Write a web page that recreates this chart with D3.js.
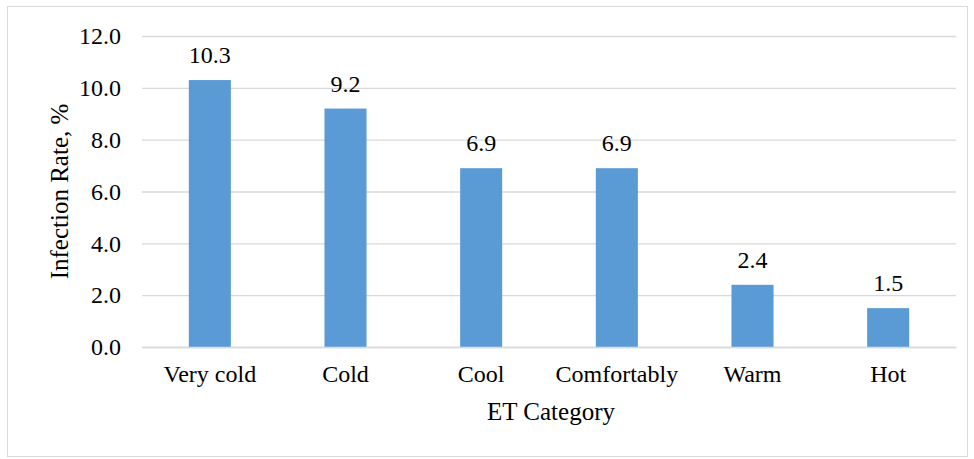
<!DOCTYPE html>
<html>
<head>
<meta charset="utf-8">
<script src="https://cdn.jsdelivr.net/npm/d3@7"></script>
<style>
  html, body { margin: 0; padding: 0; background: #fff; }
  svg { display: block; }
</style>
</head>
<body>
<svg id="chart" width="974" height="459" style="font-family: 'Times New Roman', Tinos, 'Liberation Serif', serif;"></svg>
<script>
// Infection rate by effective-temperature (ET) category
const categories = ["Very cold", "Cold", "Cool", "Comfortably", "Warm", "Hot"];
const infectionRate = [10.3, 9.2, 6.9, 6.9, 2.4, 1.5];
const yTicks = [0, 2, 4, 6, 8, 10, 12];

const SERIF = "'Times New Roman', Tinos, 'Liberation Serif', serif";
const W = 974, H = 459;
const margin = { top: 36, right: 18, bottom: 112, left: 142 };
const plotW = W - margin.left - margin.right;
const plotH = H - margin.top - margin.bottom;

const svg = d3.select("#chart");

// outer frame
svg.append("rect")
  .attr("x", 7.5).attr("y", 6.5)
  .attr("width", 960).attr("height", 450)
  .attr("fill", "none").attr("stroke", "#d9d9d9").attr("stroke-width", 1);

const g = svg.append("g").attr("transform", `translate(${margin.left},${margin.top})`);

const x = d3.scaleBand().domain(categories).range([0, plotW])
  .paddingInner(0.69).paddingOuter(0.345);
const y = d3.scaleLinear().domain([0, 12]).range([plotH, 0]);

// horizontal gridlines
g.append("g")
  .call(d3.axisLeft(y).tickValues(yTicks).tickSize(-plotW).tickFormat(""))
  .call(a => a.select(".domain").remove())
  .call(a => a.selectAll("line").attr("stroke", "#d9d9d9").attr("stroke-width", 1.3));

// y tick labels
g.append("g")
  .call(d3.axisLeft(y).tickValues(yTicks).tickSize(0).tickPadding(21).tickFormat(d3.format(".1f")))
  .attr("font-size", 24)
  .attr("font-family", null)
  .call(a => a.select(".domain").remove())
  .call(a => a.selectAll("text").attr("fill", "#000").style("font-family", SERIF));

// bars
g.selectAll("rect.bar").data(categories).join("rect")
  .attr("class", "bar")
  .attr("x", d => x(d))
  .attr("width", x.bandwidth())
  .attr("y", (d, i) => y(infectionRate[i]))
  .attr("height", (d, i) => plotH - y(infectionRate[i]))
  .attr("fill", "#5b9bd5");

// value labels
g.selectAll("text.val").data(categories).join("text")
  .attr("class", "val")
  .attr("x", d => x(d) + x.bandwidth() / 2)
  .attr("y", (d, i) => y(infectionRate[i]) - 17)
  .attr("text-anchor", "middle")
  .attr("font-size", 24).attr("fill", "#000")
  .style("font-family", SERIF)
  .text((d, i) => d3.format(".1f")(infectionRate[i]));

// x axis baseline and category labels
g.append("g")
  .attr("transform", `translate(0,${plotH})`)
  .call(d3.axisBottom(x).tickSize(0).tickPadding(18))
  .attr("font-size", 24)
  .attr("font-family", null)
  .call(a => a.select(".domain").attr("stroke", "#d9d9d9").attr("stroke-width", 1.3))
  .call(a => a.selectAll("text").attr("fill", "#000").style("font-family", SERIF));

// axis titles
svg.append("text")
  .attr("transform", `translate(68,${margin.top + plotH / 2}) rotate(-90)`)
  .attr("text-anchor", "middle")
  .attr("font-size", 25).attr("fill", "#000")
  .style("font-family", SERIF)
  .text("Infection Rate, %");

svg.append("text")
  .attr("x", margin.left + plotW / 2 + 2)
  .attr("y", 420)
  .attr("text-anchor", "middle")
  .attr("font-size", 25).attr("fill", "#000")
  .style("font-family", SERIF)
  .text("ET Category");
</script>
</body>
</html>
